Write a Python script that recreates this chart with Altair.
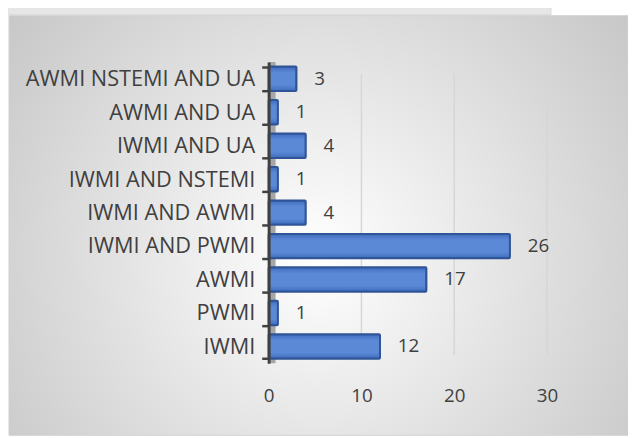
import altair as alt
import pandas as pd

categories = ["AWMI NSTEMI AND UA", "AWMI AND UA", "IWMI AND UA", "IWMI AND NSTEMI",
              "IWMI AND AWMI", "IWMI AND PWMI", "AWMI", "PWMI", "IWMI"]
counts = [3, 1, 4, 1, 4, 26, 17, 1, 12]
x_ticks = [0, 10, 20, 30]
grid_vals = [10, 20, 30]

df = pd.DataFrame({"cat": categories, "n": counts})

FONT = "Open Sans"
TXT = "#404040"

W, H = 282, 305
PL, PT = 264, 52

bg = alt.Chart(pd.DataFrame({"a": [0]})).mark_rect(
    fill=alt.RadialGradient(
        gradient="radial", x1=0.5, y1=0.55, r1=0, x2=0.5, y2=0.55, r2=0.75,
        stops=[alt.GradientStop(offset=0, color="#ffffff"),
               alt.GradientStop(offset=1, color="#bdbdbd")]),
    stroke="#d0d0d0", strokeWidth=1,
).encode(x=alt.value(-PL + 1), x2=alt.value(628 - PL), y=alt.value(-47), y2=alt.value(378))

strip = alt.Chart(pd.DataFrame({"a": [0]})).mark_rect(fill="#e6e6e6", stroke="#d9d9d9").encode(
    x=alt.value(-PL - 8), x2=alt.value(558 - PL - 8), y=alt.value(-60), y2=alt.value(-48))

shadow = alt.Chart(pd.DataFrame({"a": [0]})).mark_rect(fill="#a6a6a6").encode(
    x=alt.value(0), x2=alt.value(7), y=alt.value(0), y2=alt.value(H))

ysort = alt.Sort(categories)
xscale = alt.Scale(domain=[0, 30])

grid = alt.Chart(pd.DataFrame({"g": grid_vals})).mark_rule(
    color="#d6d6d6", strokeWidth=1.5
).encode(x=alt.X("g:Q", scale=xscale), y=alt.value(12), y2=alt.value(H - 8))

bar_fill = alt.LinearGradient(
    gradient="linear", x1=0, y1=0, x2=0, y2=1,
    stops=[alt.GradientStop(offset=0, color="#3f6bbd"),
           alt.GradientStop(offset=0.25, color="#5b89d6"),
           alt.GradientStop(offset=0.75, color="#5b89d6"),
           alt.GradientStop(offset=1, color="#3f6bbd")])

bars = alt.Chart(df).mark_bar(
    fill=bar_fill, stroke="#2f5597", strokeWidth=2, cornerRadius=1
).encode(
    y=alt.Y("cat:N", sort=ysort, title=None,
            scale=alt.Scale(paddingInner=0.27, paddingOuter=0.135),
            axis=alt.Axis(labelFont=FONT, labelFontSize=22, labelColor=TXT, labelPadding=7,
                          domainColor="#404040", domainWidth=3, tickColor="#404040",
                          tickWidth=2.5, tickSize=7, tickBand="extent", grid=False,
                          labelLimit=300, zindex=1)),
    x=alt.X("n:Q", scale=xscale, title=None,
            axis=alt.Axis(values=x_ticks, labelFont=FONT, labelFontSize=19, labelColor=TXT,
                          domain=False, ticks=False, labelPadding=24, labelFlush=False,
                          grid=False, zindex=1)),
)

labels = alt.Chart(df).mark_text(
    align="left", dx=18, font=FONT, fontSize=19, color=TXT
).encode(
    y=alt.Y("cat:N", sort=ysort),
    x=alt.X("n:Q", scale=xscale),
    text="n:Q",
)

chart = alt.layer(strip, bg, grid, shadow, bars, labels).properties(
    width=W, height=H,
    autosize=alt.AutoSizeParams(type="none"),
    padding={"left": PL, "top": PT, "right": 628 - PL - W, "bottom": 430 - PT - H},
).configure_view(stroke=None).configure(background="#ffffff")

chart.save("out.html", embed_options={"renderer": "svg", "actions": False})
